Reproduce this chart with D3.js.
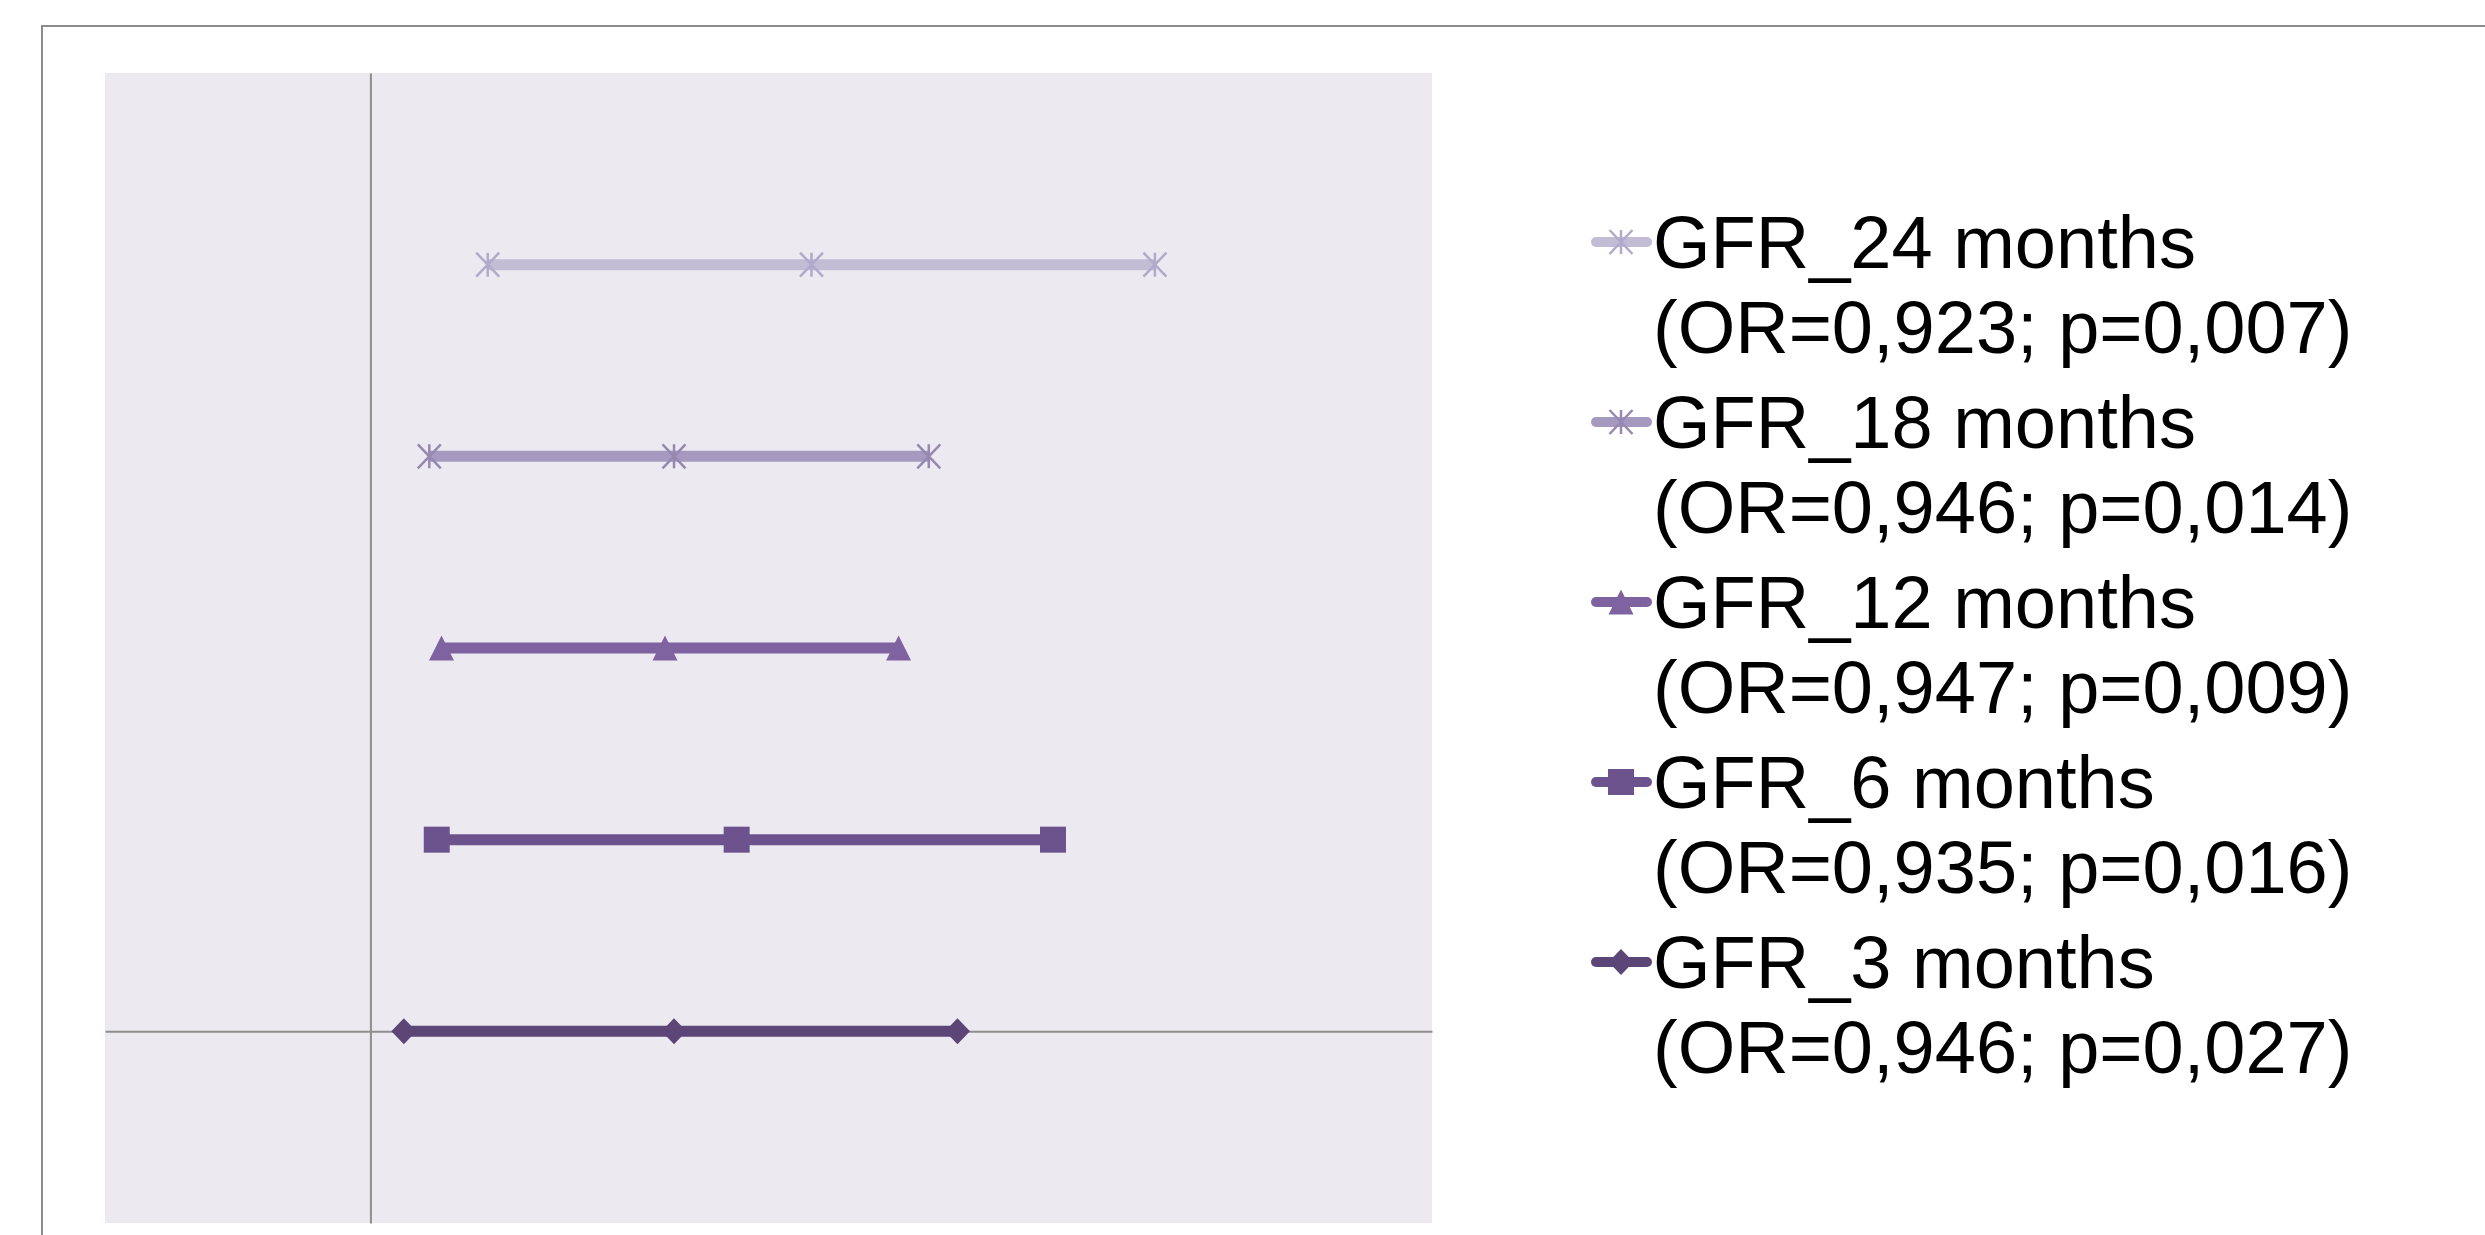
<!doctype html>
<html lang="en">
<head>
  <meta name="viewport" content="width=device-width, initial-scale=1.0">
  <style>
    body { margin: 0; background: #fff; }
    svg { display: block; }
    text { font-family: "Liberation Sans", Arial, sans-serif; }
  </style>
</head>
<body>
  <script src="https://d3js.org/d3.v7.min.js" charset="utf-8"></script>
  <div id="chart"></div>
  <script>
    // Data (x in chart units: lower CI, estimate, upper CI)
    var series = ["GFR_24 months", "GFR_18 months", "GFR_12 months", "GFR_6 months", "GFR_3 months"];
    var stats = ["(OR=0,923; p=0,007)", "(OR=0,946; p=0,014)", "(OR=0,947; p=0,009)", "(OR=0,935; p=0,016)", "(OR=0,946; p=0,027)"];
    var rowY = [4, 3, 2, 1, 0];
    var lower = [0.0221, 0.0111, 0.0134, 0.0125, 0.0063];
    var estimate = [0.0831, 0.0572, 0.0555, 0.0690, 0.0572];
    var upper = [0.1478, 0.1052, 0.0995, 0.1286, 0.1106];

    var colors = ["#c3bcd5", "#a699bf", "#7f63a1", "#6d538e", "#5c4577"];
    var markerColors = ["#b3a9ca", "#9688b3", "#7f63a1", "#6d538e", "#5c4577"];
    var markerTypes = ["star", "star", "triangle", "square", "diamond"];

    var width = 2485, height = 1235;
    var plot = {left: 105, right: 1432, top: 73, bottom: 1223};

    var svg = d3.select("#chart").append("svg")
                .attr("width", width)
                .attr("height", height);

    // chart area frame (runs off the picture at right and bottom)
    svg.append("rect")
       .attr("x", 42).attr("y", 26)
       .attr("width", width).attr("height", height)
       .attr("fill", "none")
       .attr("stroke", "#8c8c8c")
       .attr("stroke-width", 2);

    var xScale = d3.scaleLinear().domain([-0.05, 0.2]).range([plot.left, plot.right]);
    var yScale = d3.scaleLinear().domain([-1, 5]).range([plot.bottom, plot.top]);

    svg.append("rect")
       .attr("x", plot.left).attr("y", plot.top)
       .attr("width", plot.right - plot.left)
       .attr("height", plot.bottom - plot.top)
       .attr("fill", "#eceaf0");

    // axes crossing at zero, no ticks or labels
    svg.append("g")
       .attr("transform", "translate(0," + yScale(0) + ")")
       .call(d3.axisBottom(xScale).tickValues([]).tickSizeOuter(0))
       .select(".domain").attr("stroke", "#8e8e8e").attr("stroke-width", 2);
    svg.append("g")
       .attr("transform", "translate(" + xScale(0) + ",0)")
       .call(d3.axisLeft(yScale).tickValues([]).tickSizeOuter(0))
       .select(".domain").attr("stroke", "#8e8e8e").attr("stroke-width", 2);

    function marker(g, type, color, mcolor) {
      if (type == "star") {
        g.append("path")
         .attr("d", "M-11.5,-12L11.5,12M-11.5,12L11.5,-12M0,-12L0,12")
         .attr("stroke", mcolor).attr("stroke-width", 2.5).attr("fill", "none");
      } else if (type == "triangle") {
        g.append("path").attr("d", "M0,-12.5L12.5,12.5L-12.5,12.5Z").attr("fill", mcolor);
      } else if (type == "square") {
        g.append("rect").attr("x", -13).attr("y", -13).attr("width", 26).attr("height", 26).attr("fill", mcolor);
      } else {
        g.append("path").attr("d", "M0,-13L12.5,0L0,13L-12.5,0Z").attr("fill", mcolor);
      }
    }

    var line = d3.line().x(d => xScale(d[0])).y(d => yScale(d[1]));

    for (var i = 0; i < series.length; i++) {
      var pts = [[lower[i], rowY[i]], [estimate[i], rowY[i]], [upper[i], rowY[i]]];
      svg.append("path")
         .datum(pts)
         .attr("d", line)
         .attr("fill", "none")
         .attr("stroke", colors[i])
         .attr("stroke-width", 11);
      pts.forEach(function(p) {
        var g = svg.append("g").attr("transform", "translate(" + xScale(p[0]) + "," + yScale(p[1]) + ")");
        marker(g, markerTypes[i], colors[i], markerColors[i]);
      });
    }

    // Legend
    var legend = svg.append("g").attr("class", "legend");
    for (var i = 0; i < series.length; i++) {
      var base = 268 + i * 180;
      legend.append("line")
            .attr("x1", 1596).attr("x2", 1647)
            .attr("y1", base - 26).attr("y2", base - 26)
            .attr("stroke", colors[i])
            .attr("stroke-width", 10)
            .attr("stroke-linecap", "round");
      var g = legend.append("g").attr("transform", "translate(1621," + (base - 26) + ")");
      marker(g, markerTypes[i], colors[i], markerColors[i]);
      legend.append("text")
            .attr("x", 1653).attr("y", base)
            .attr("font-size", 74)
            .attr("fill", "#000")
            .text(series[i]);
      legend.append("text")
            .attr("x", 1653).attr("y", base + 85)
            .attr("font-size", 74)
            .attr("fill", "#000")
            .text(stats[i]);
    }
  </script>
</body>
</html>
